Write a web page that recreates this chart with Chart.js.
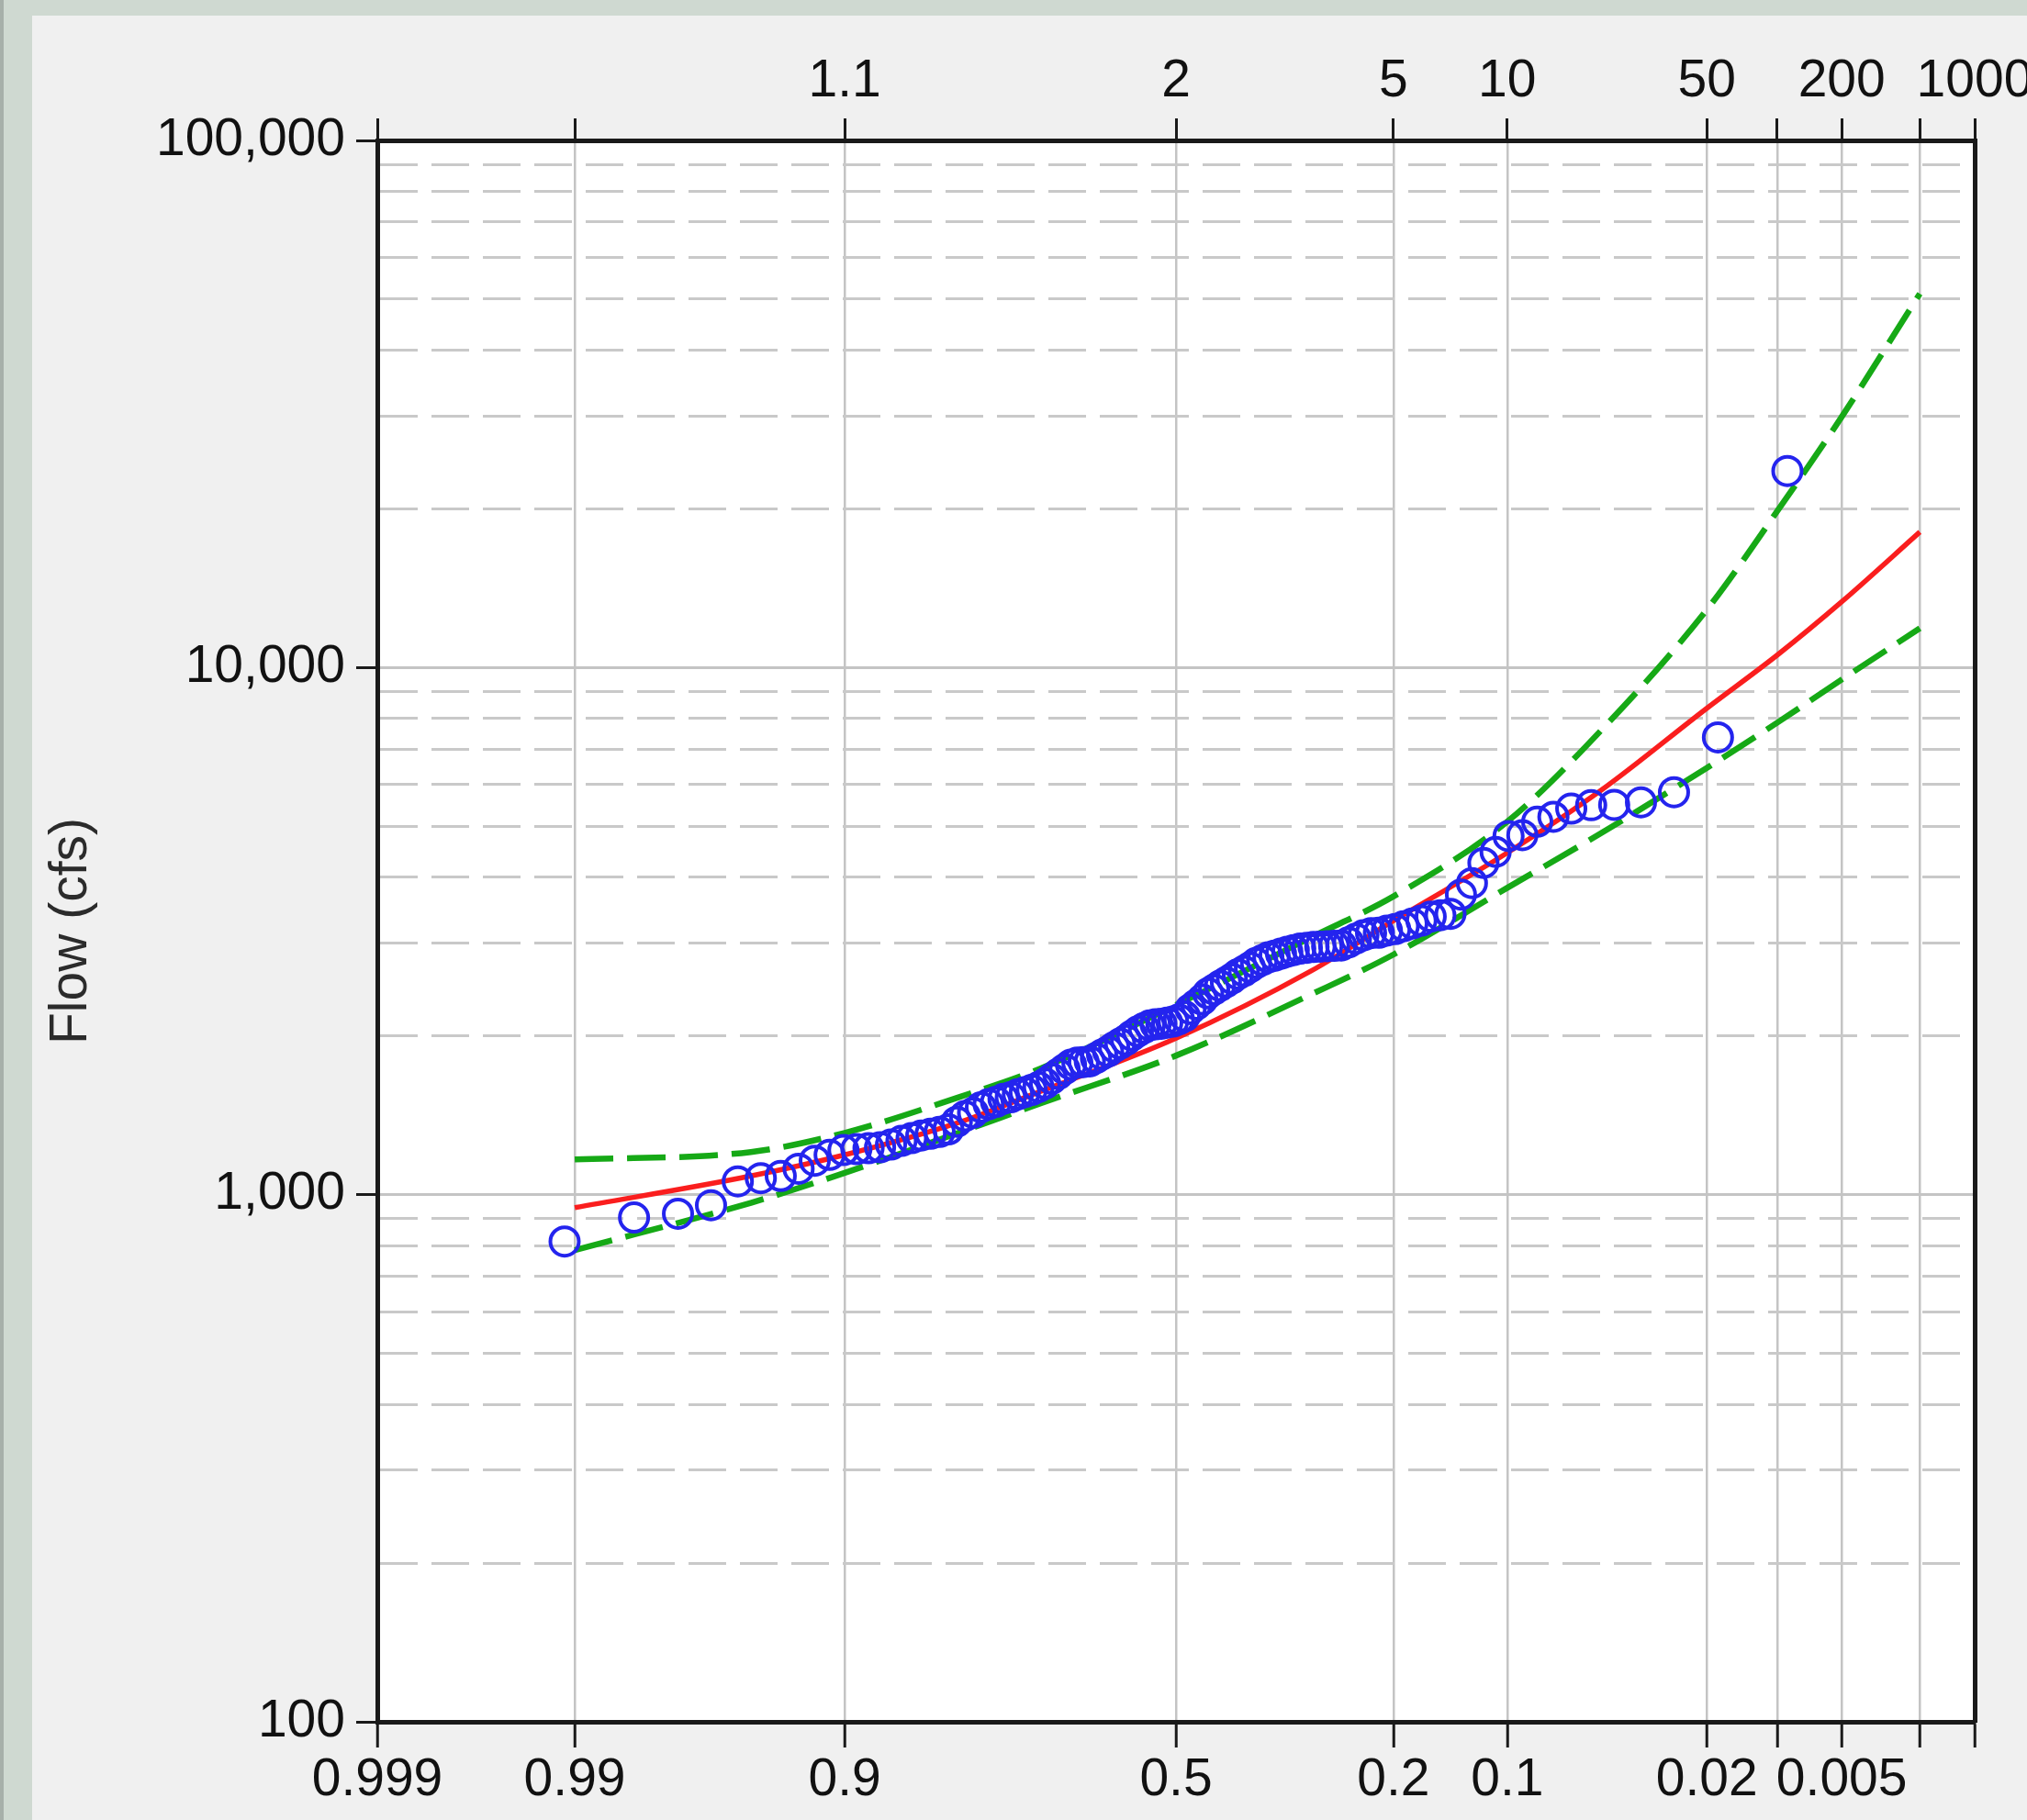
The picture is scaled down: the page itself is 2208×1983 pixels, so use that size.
<!DOCTYPE html>
<html><head><meta charset="utf-8">
<script src="https://cdn.jsdelivr.net/npm/chart.js@4.4.1/dist/chart.umd.min.js"></script>
<style>html,body{margin:0;padding:0;background:#cfd9d1;}canvas{display:block;}</style>
</head><body>
<canvas id="c" width="2208" height="1983" style="width:2208px;height:1983px"></canvas>
<script>
// ---- data (exceedance probability / flow in cfs) ----
const exceedProb = [0.0090,0.0180,0.0270,0.0360,0.0450,0.0541,0.0631,0.0721,0.0811,0.0901,
0.0991,0.1081,0.1171,0.1261,0.1351,0.1441,0.1532,0.1622,0.1712,0.1802,
0.1892,0.1982,0.2072,0.2162,0.2252,0.2342,0.2432,0.2523,0.2613,0.2703,
0.2793,0.2883,0.2973,0.3063,0.3153,0.3243,0.3333,0.3423,0.3514,0.3604,
0.3694,0.3784,0.3874,0.3964,0.4054,0.4144,0.4234,0.4324,0.4414,0.4505,
0.4595,0.4685,0.4775,0.4865,0.4955,0.5045,0.5135,0.5225,0.5315,0.5405,
0.5495,0.5586,0.5676,0.5766,0.5856,0.5946,0.6036,0.6126,0.6216,0.6306,
0.6396,0.6486,0.6577,0.6667,0.6757,0.6847,0.6937,0.7027,0.7117,0.7207,
0.7297,0.7387,0.7477,0.7568,0.7658,0.7748,0.7838,0.7928,0.8018,0.8108,
0.8198,0.8288,0.8378,0.8468,0.8559,0.8649,0.8739,0.8829,0.8919,0.9009,
0.9099,0.9189,0.9279,0.9369,0.9459,0.9550,0.9640,0.9730,0.9820,0.9910];
const peakFlow = [23600,7370,5800,5550,5490,5480,5400,5210,5100,4810,
4790,4470,4260,3900,3710,3410,3390,3370,3310,3270,
3230,3190,3170,3140,3135,3105,3060,3010,2970,2965,
2960,2955,2950,2940,2930,2910,2890,2865,2840,2820,
2785,2750,2700,2655,2620,2570,2530,2490,2450,2410,
2345,2295,2250,2180,2150,2130,2120,2110,2105,2095,
2070,2040,2005,1965,1935,1905,1870,1845,1815,1790,
1785,1780,1765,1730,1695,1660,1625,1600,1580,1565,
1550,1530,1520,1500,1485,1465,1430,1410,1375,1330,
1315,1305,1295,1280,1265,1245,1230,1225,1220,1215,
1190,1160,1120,1085,1075,1060,955,920,905,815];
const curveProb     = [0.99, 0.95, 0.9, 0.8, 0.7, 0.5, 0.3, 0.2, 0.1, 0.05, 0.02, 0.01, 0.005, 0.002];
const computedFlow  = [945, 1085, 1190, 1370, 1570, 1980, 2660, 3310, 4450, 5850, 8370, 10560, 13330, 18080];
const upperLimit    = [1166, 1205, 1310, 1530, 1735, 2290, 3080, 3680, 5100, 7600, 12870, 19800, 29900, 51200];
const lowerLimit    = [785, 965, 1100, 1310, 1490, 1836, 2400, 2855, 3820, 4850, 6450, 7860, 9490, 11870];
const axisProbTicks = [0.999, 0.99, 0.9, 0.5, 0.2, 0.1, 0.02, 0.01, 0.005, 0.002, 0.001];
const probLabels    = ['0.999','0.99','0.9','0.5','0.2','0.1','0.02','','0.005','',''];
const returnLabels  = ['','','1.1','2','5','10','50','','200','','1000'];
const flowTicks = [100,200,300,400,500,600,700,800,900,1000,2000,3000,4000,5000,6000,7000,8000,9000,
                   10000,20000,30000,40000,50000,60000,70000,80000,90000,100000];

// ---- normal probability transform ----
function probit(p){
  const a=[-3.969683028665376e+01,2.209460984245205e+02,-2.759285104469687e+02,1.383577518672690e+02,-3.066479806614716e+01,2.506628277459239e+00];
  const b=[-5.447609879822406e+01,1.615858368580409e+02,-1.556989798598866e+02,6.680131188771972e+01,-1.328068155288572e+01];
  const c=[-7.784894002430293e-03,-3.223964580411365e-01,-2.400758277161838e+00,-2.549732539343734e+00,4.374664141464968e+00,2.938163982698783e+00];
  const d=[7.784695709041462e-03,3.224671290700398e-01,2.445134137142996e+00,3.754408661907416e+00];
  const pl=0.02425; let q,r;
  if(p<pl){q=Math.sqrt(-2*Math.log(p));return (((((c[0]*q+c[1])*q+c[2])*q+c[3])*q+c[4])*q+c[5])/((((d[0]*q+d[1])*q+d[2])*q+d[3])*q+1);}
  if(p<=1-pl){q=p-0.5;r=q*q;return (((((a[0]*r+a[1])*r+a[2])*r+a[3])*r+a[4])*r+a[5])*q/(((((b[0]*r+b[1])*r+b[2])*r+b[3])*r+b[4])*r+1);}
  q=Math.sqrt(-2*Math.log(1-p));return -(((((c[0]*q+c[1])*q+c[2])*q+c[3])*q+c[4])*q+c[5])/((((d[0]*q+d[1])*q+d[2])*q+d[3])*q+1);
}
const zOf = p => probit(1 - p);
const isDecade = v => Math.abs(Math.log10(v) - Math.round(Math.log10(v))) < 1e-9;

// ---- font detection (narrow tick font if installed) ----
function fontAvailable(name){
  const c = document.createElement('canvas').getContext('2d');
  const t = '100,000 0.999 Flow';
  c.font = '65px monospace'; const w1 = c.measureText(t).width;
  c.font = "65px '" + name + "', monospace"; const w2 = c.measureText(t).width;
  return Math.abs(w1 - w2) > 0.5;
}
const tickFont = fontAvailable('Liberation Sans Narrow')
  ? {family:"'Liberation Sans Narrow'", size:65}
  : {family:"'Liberation Sans', Arial, sans-serif", size:57};

const W = 2208, H = 1983;
const bgPlugin = {
  id: 'bg',
  beforeDraw(chart){
    const ctx = chart.ctx; const a = chart.chartArea;
    ctx.save();
    ctx.fillStyle = '#cfd9d1'; ctx.fillRect(0,0,W,H);
    ctx.fillStyle = '#a7b0aa'; ctx.fillRect(0,0,4,H);
    ctx.fillStyle = '#f0f0f0'; ctx.fillRect(35,17,W-35,H-17);
    ctx.fillStyle = '#ffffff'; ctx.fillRect(a.left,a.top,a.right-a.left,a.bottom-a.top);
    ctx.restore();
  }
};

const zMin = zOf(0.999), zMax = zOf(0.001);
const toPts = (ps, vs) => ps.map((p,i) => ({x: zOf(p), y: vs[i]}));
const probTickBuild = s => { s.ticks = axisProbTicks.map(p => ({value: zOf(p)})); };

new Chart(document.getElementById('c'), {
  type: 'scatter',
  data: {
    datasets: [
      { label:'Observed', data: toPts(exceedProb, peakFlow), showLine:false,
        pointStyle:'circle', pointRadius:15.5, pointHoverRadius:15.5, pointBorderWidth:4,
        pointBorderColor:'#2424ee', pointBackgroundColor:'rgba(0,0,0,0)', order:0 },
      { label:'Computed', data: toPts(curveProb, computedFlow), showLine:true, pointRadius:0,
        borderColor:'#fa1e1e', borderWidth:5.5, cubicInterpolationMode:'monotone', order:1 },
      { label:'Upper', data: toPts(curveProb, upperLimit), showLine:true, pointRadius:0,
        borderColor:'#16a916', borderWidth:6.5, borderDash:[42,15], cubicInterpolationMode:'monotone', order:2 },
      { label:'Lower', data: toPts(curveProb, lowerLimit), showLine:true, pointRadius:0,
        borderColor:'#16a916', borderWidth:6.5, borderDash:[42,15], cubicInterpolationMode:'monotone', order:3 }
    ]
  },
  options: {
    responsive:false, animation:false, devicePixelRatio:1,
    layout:{padding:0},
    plugins:{legend:{display:false}, tooltip:{enabled:false}},
    scales:{
      x:{ type:'linear', position:'bottom', min:zMin, max:zMax,
        afterBuildTicks: probTickBuild,
        afterFit: s => { s.height = 107; s.paddingLeft = 0; s.paddingRight = 0; },
        ticks:{ autoSkip:false, maxRotation:0, minRotation:0, padding:2, color:'#111', font:tickFont,
                callback:(v,i) => probLabels[i] },
        grid:{ color:'#c4c4c4', lineWidth:2.5, tickColor:'#1a1a1a', tickWidth:3, tickLength:28 },
        border:{ color:'#1a1a1a', width:5, z:1 } },
      xTop:{ type:'linear', position:'top', min:zMin, max:zMax, display:true,
        afterBuildTicks: probTickBuild,
        afterFit: s => { s.height = 153; s.paddingLeft = 0; s.paddingRight = 0; },
        ticks:{ autoSkip:false, maxRotation:0, minRotation:0, padding:6, color:'#111', font:tickFont,
                callback:(v,i) => returnLabels[i] },
        grid:{ drawOnChartArea:false, color:'#1a1a1a', tickColor:'#1a1a1a', tickWidth:3, tickLength:24 },
        border:{ color:'#1a1a1a', width:5, z:1 } },
      y:{ type:'logarithmic', position:'left', min:100, max:100000,
        afterBuildTicks: s => { s.ticks = flowTicks.map(v => ({value:v, major:isDecade(v)})); },
        afterFit: s => { s.width = 411; s.paddingTop = 0; s.paddingBottom = 0; },
        ticks:{ autoSkip:false, padding:12, color:'#111', font:tickFont,
                callback: v => isDecade(v) ? Number(v).toLocaleString('en-US') : '' },
        grid:{
          color: ctx => { if(!ctx.tick) return '#c4c4c4'; const v = ctx.tick.value;
            if (v === 100 || v === 100000) return 'rgba(0,0,0,0)';
            return isDecade(v) ? '#c4c4c4' : '#c9c9c9'; },
          lineWidth: 3,
          tickColor: ctx => (ctx.tick && isDecade(ctx.tick.value)) ? '#1a1a1a' : 'rgba(0,0,0,0)',
          tickWidth:3, tickLength:23 },
        border:{ color:'#1a1a1a', width:5, z:1,
          dash: ctx => (ctx.tick && !isDecade(ctx.tick.value)) ? [41,15] : [] },
        title:{ display:true, text:'Flow (cfs)', color:'#2b2b2b',
                font:{family:"'Liberation Sans', Arial, sans-serif", size:57}, padding:{top:44, bottom:0} } },
      yR:{ type:'linear', position:'right', min:0, max:1, display:true,
        afterFit: s => { s.width = 57; },
        ticks:{ display:false },
        grid:{ drawOnChartArea:false, drawTicks:false },
        border:{ color:'#1a1a1a', width:5, z:1 } }
    }
  },
  plugins:[bgPlugin]
});
</script>
</body></html>
